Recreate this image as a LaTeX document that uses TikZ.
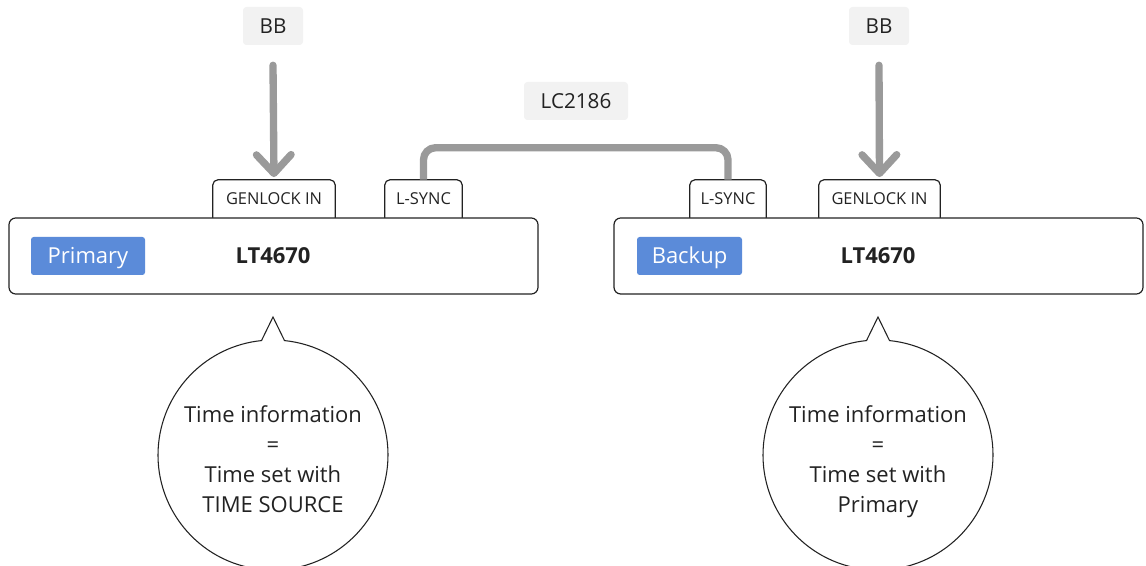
\documentclass[tikz,border=0pt]{standalone}
\usepackage{fontspec}
\setmainfont{Open Sans}
\usetikzlibrary{arrows.meta,calc}
\definecolor{lab}{HTML}{F2F2F2}
\definecolor{wire}{HTML}{9A9A9A}
\definecolor{tagblue}{HTML}{5B8BD9}
\definecolor{ink}{HTML}{222222}
\begin{document}
\begin{tikzpicture}[x=0.75pt,y=-0.75pt,
 lbl/.style={fill=lab, rounded corners=2.5pt, minimum height=28.5pt, inner sep=0pt, font=\fontsize{15.5}{18}\selectfont, text=ink, text height=11.1pt, text depth=0pt},
 tabnode/.style={inner sep=0pt, minimum height=28.5pt, font=\fontsize{12.3}{14}\selectfont, text=ink, text height=8.8pt, text depth=0pt},
 tabline/.style={draw=ink, line width=0.9pt, rounded corners=4pt},
 unit/.style={draw=ink, line width=0.9pt, fill=white, rounded corners=5pt, inner sep=0pt, minimum width=396.75pt, minimum height=57pt},
 tag/.style={fill=tagblue, rounded corners=2pt, text=white, font=\fontsize{16.5}{19}\selectfont, inner sep=0pt, minimum height=28.5pt, text height=11.8pt, text depth=0pt},
 model/.style={font=\bfseries\fontsize{16.5}{19}\selectfont, text=ink, text height=11.8pt, text depth=0pt},
 wirestyle/.style={draw=wire, line width=5.5pt, line join=round},
 arr/.style={wirestyle, line cap=round, -{Straight Barb[length=14pt, width=26pt, line cap=round, line join=round]}, shorten >=2pt},
 bubble/.style={draw=ink, line width=0.8pt, fill=white},
 btext/.style={align=center, font=\fontsize{16.5}{22.5}\selectfont, text=ink, anchor=north, inner sep=0pt}
]
\useasboundingbox (0,0) rectangle (1146,566);
\clip (0,0) rectangle (1146,566);

% labels
\node[lbl, minimum width=45pt] (bbL) at (273,26) {BB};
\node[lbl, minimum width=45pt] (bbR) at (879,26) {BB};
\node[lbl, minimum width=78pt] (lc) at (576,101) {LC2186};

% tabs
\node[tabnode, minimum width=91.5pt] (genL) at (274,199) {GENLOCK IN};
\node[tabnode, minimum width=57.75pt] (syncL) at (423.5,199) {L-SYNC};
\node[tabnode, minimum width=57pt] (syncR) at (728,199) {L-SYNC};
\node[tabnode, minimum width=90.75pt] (genR) at (879.5,199) {GENLOCK IN};
\foreach \t in {genL,syncL,syncR,genR}
  \draw[tabline] (\t.south west) -- (\t.north west) -- (\t.north east) -- (\t.south east);

% units
\node[unit] (prim) at (273.5,256) {};
\node[unit] (back) at (878.5,256) {};
\node[tag, minimum width=85.5pt] (tagP) at (88,256) {Primary};
\node[tag, minimum width=78.75pt] (tagB) at (689.5,256) {Backup};
\node[model] (mP) at (273,256) {LT4670};
\node[model] (mB) at (878,256) {LT4670};

% connectors
\draw[arr] ($(bbL.south)+(0,20)$) -- (genL.north);
\draw[arr] ($(bbR.south)+(0,20)$) -- (genR.north);
\draw[wirestyle, rounded corners=9pt] (syncL.north) -- ++(0,-32) -| (syncR.north);

% bubbles
\coordinate (cL) at (273,455);
\coordinate (cR) at (878,455);
\foreach \c in {cL,cR}
  \draw[bubble] ($(\c)+(0,-138)$) -- ($(\c)+(-84.26:115)$) arc[start angle=-84.26, end angle=264.26, radius=115] -- cycle;
\node[btext] (tL) at ($(cL)+(0,-50)$) {Time information\\=\\Time set with\\TIME SOURCE};
\node[btext] (tR) at ($(cR)+(0,-50)$) {Time information\\=\\Time set with\\Primary};
\end{tikzpicture}
\end{document}
